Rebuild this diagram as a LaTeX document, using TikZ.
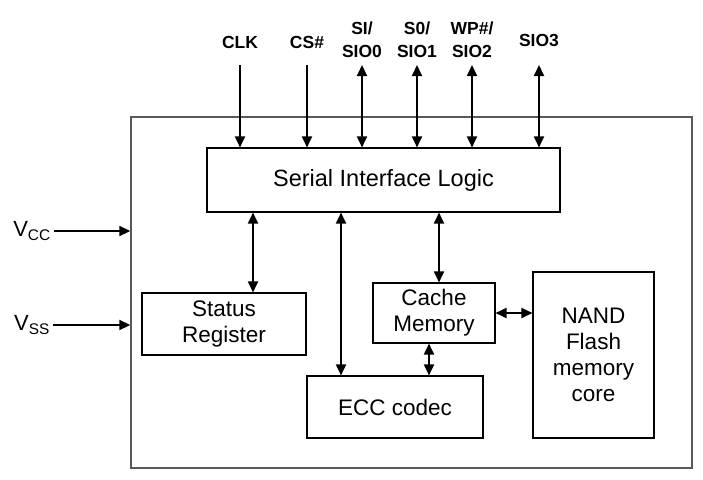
\documentclass[tikz,border=0pt]{standalone}
\usepackage{fontspec}
\setmainfont{Liberation Sans}
\usetikzlibrary{arrows.meta}
\begin{document}
\begin{tikzpicture}[x=1pt,y=-1pt,
    block/.style={draw, line width=1.1pt, align=center, inner sep=0pt,
      font=\fontsize{22.5}{26}\selectfont},
    pinlabel/.style={align=center, inner sep=0pt,
      font=\fontsize{17.5}{23}\selectfont\bfseries},
    sig/.style={line width=1.8pt, -{Triangle[length=11pt,width=10pt]}},
    bus/.style={line width=1.8pt, {Triangle[length=11pt,width=10pt]}-{Triangle[length=11pt,width=10pt]}}]

        \useasboundingbox (0,0) rectangle (703,479);

        \node[draw=black!65, line width=1.4pt, minimum width=561pt, minimum height=351pt, inner sep=0pt]
          (chip) at (411.5,292.5) {};

        \begin{scope}[every node/.style={block}]
          \node[minimum width=353pt, minimum height=64pt, font=\fontsize{23.5}{26}\selectfont]
            (sil) at (383.5,180) {Serial Interface Logic};
          \node[minimum width=164pt, minimum height=62pt] (status) at (224,324) {Status\\Register};
          \node[minimum width=122pt, minimum height=60pt] (cache)  at (434,313) {Cache\\Memory};
          \node[minimum width=176pt, minimum height=62pt] (ecc)    at (395,407) {ECC codec};
          \node[minimum width=121pt, minimum height=166pt] (nand)  at (593.5,355) {NAND\\Flash\\memory\\core};
        \end{scope}

        \begin{scope}[every node/.style={pinlabel}]
          \node (lclk)  at (240,42) {CLK};
          \node (lcs)   at (307,42) {CS\#};
          \node (lsio0) at (362,40) {SI/\\SIO0};
          \node (lsio1) at (417,40) {S0/\\SIO1};
          \node (lsio2) at (472,40) {WP\#/\\SIO2};
          \node (lsio3) at (539,40) {SIO3};
        \end{scope}

        \coordinate (clk)  at (240,65);
        \coordinate (cs)   at (307,65);
        \coordinate (sio0) at (362,65);
        \coordinate (sio1) at (417,65);
        \coordinate (sio2) at (472,65);
        \coordinate (sio3) at (539,65);

        \node[inner sep=0pt, font=\fontsize{22}{26}\selectfont] (vcc) at (32,231) {V\textsubscript{CC}};
        \node[inner sep=0pt, font=\fontsize{22}{26}\selectfont] (vss) at (32,325) {V\textsubscript{SS}};

        \draw[sig] (clk)  -- (clk  |- sil.north);
        \draw[sig] (cs)   -- (cs   |- sil.north);
        \draw[bus] (sio0) -- (sio0 |- sil.north);
        \draw[bus] (sio1) -- (sio1 |- sil.north);
        \draw[bus] (sio2) -- (sio2 |- sil.north);
        \draw[bus] (sio3) -- (sio3 |- sil.north);

        \draw[sig] ([xshift=3pt]vcc.east) -- (vcc.east -| chip.west);
        \draw[sig] ([xshift=3pt]vss.east) -- (vss.east -| chip.west);

        \begin{scope}[every edge/.style={draw, bus}]
          \path ([xshift=29pt]status.north) edge ([xshift=29pt]status.north |- sil.south);
          \path ([xshift=-54pt]ecc.north)   edge ([xshift=-54pt]ecc.north |- sil.south);
          \path ([xshift=5pt]cache.north)   edge ([xshift=5pt]cache.north |- sil.south);
          \path ([xshift=-5pt]cache.south)  edge ([xshift=-5pt]cache.south |- ecc.north);
          \path (cache.east) edge (cache.east -| nand.west);
        \end{scope}

      \end{tikzpicture}
\end{document}
